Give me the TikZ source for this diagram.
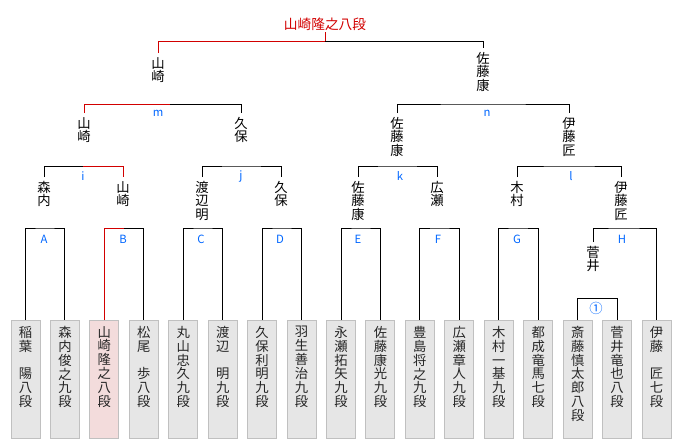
\documentclass[tikz,border=0pt]{standalone}
\usepackage{fontspec}
\setmainfont{Noto Sans CJK JP}

\definecolor{winred}{RGB}{210,0,0}
\definecolor{lblue}{RGB}{0,102,255}
\definecolor{boxfill}{RGB}{230,230,230}
\definecolor{boxline}{RGB}{192,192,192}
\definecolor{winfill}{RGB}{243,220,220}

\newcommand\boxtext[1]{\parbox[c][86pt][t]{20pt}{\centering\vspace*{3pt}#1\par}}

\tikzset{
  pbox/.style={draw=boxline, fill=boxfill, anchor=north, inner sep=0pt,
    minimum width=21.75pt, minimum height=88.5pt, text=black!85,
    font=\fontsize{10}{10.4}\selectfont},
  pwin/.style={pbox, fill=winfill},
  nm/.style={anchor=north, align=center, inner xsep=0pt, inner ysep=3pt,
    font=\fontsize{10}{9.9}\selectfont},
  lbl/.style={text=lblue, inner sep=0pt, font=\fontsize{8.5}{9}\selectfont},
  win/.style={draw=winred},
}

\begin{document}
\begin{tikzpicture}[x=0.75pt, y=-0.75pt, line width=0.75pt]
				
				\useasboundingbox (0,0) rectangle (680,440);
				
				\foreach \sty/\txt [count=\i from 0] in {
					pbox/{稲\\葉\\　\\陽\\八\\段}, pbox/{森\\内\\俊\\之\\九\\段},
					pwin/{山\\崎\\隆\\之\\八\\段}, pbox/{松\\尾\\　\\歩\\八\\段},
					pbox/{丸\\山\\忠\\久\\九\\段}, pbox/{渡\\辺\\　\\明\\九\\段},
					pbox/{久\\保\\利\\明\\九\\段}, pbox/{羽\\生\\善\\治\\九\\段},
					pbox/{永\\瀬\\拓\\矢\\九\\段}, pbox/{佐\\藤\\康\\光\\九\\段},
					pbox/{豊\\島\\将\\之\\九\\段}, pbox/{広\\瀬\\章\\人\\九\\段},
					pbox/{木\\村\\一\\基\\九\\段}, pbox/{都\\成\\竜\\馬\\七\\段},
					pbox/{斎\\藤\\慎\\太\\郎\\八\\段}, pbox/{菅\\井\\竜\\也\\八\\段},
					pbox/{伊\\藤\\　\\匠\\七\\段}}
					\node[\sty] (p\i) at (25.5+39.44*\i,320) {\boxtext{\txt}};
				
				\node[nm] (wA) at (44,177) {森\\内};
				\node[nm] (wB) at (123,177) {山\\崎};
				\node[nm] (wC) at (202,177) {渡\\辺\\明};
				\node[nm] (wD) at (281,177) {久\\保};
				\node[nm] (wE) at (358,177) {佐\\藤\\康};
				\node[nm] (wF) at (437,177) {広\\瀬};
				\node[nm] (wG) at (517,177) {木\\村};
				\node[nm] (wH) at (621,177) {伊\\藤\\匠};
				\node[nm] (w1) at (593,242) {菅\\井};
				\node[nm] (wi) at (84,113) {山\\崎};
				\node[nm] (wj) at (241,113) {久\\保};
				\node[nm] (wk) at (397,113) {佐\\藤\\康};
				\node[nm] (wl) at (569,113) {伊\\藤\\匠};
				\node[nm] (wm) at (158,53) {山\\崎};
				\node[nm] (wn) at (483,48) {佐\\藤\\康};
				\node[text=winred, font=\fontsize{10.3}{11}\selectfont, inner sep=1pt] (champ) at (325,24) {山崎隆之八段};
				
				\coordinate (mA) at (45,228);
				\coordinate (mB) at (124,228);
				\coordinate (mC) at (203,228);
				\coordinate (mD) at (282,228);
				\coordinate (mE) at (361,228);
				\coordinate (mF) at (440,228);
				\coordinate (mG) at (518,228);
				\coordinate (mH) at (623,228);
				\coordinate (m1) at (597,298);
				\coordinate (mi) at (83,166);
				\coordinate (mj) at (241,166);
				\coordinate (mk) at (397,166);
				\coordinate (ml) at (569,166);
				\coordinate (mm) at (170,104);
				\coordinate (mn) at (483,104);
				\coordinate (fin) at (325,41);
				
				\draw (p0.north) |- (mA) -| (p1.north);
				\draw[win] (p2.north) |- (mB);
				\draw (mB) -| (p3.north);
				\draw (p4.north) |- (mC) -| (p5.north);
				\draw (p6.north) |- (mD) -| (p7.north);
				\draw (p8.north) |- (mE) -| (p9.north);
				\draw (p10.north) |- (mF) -| (p11.north);
				\draw (p12.north) |- (mG) -| (p13.north);
				\draw (p14.north) |- (m1) -| (p15.north);
				\draw (w1.north) |- (mH) -| (p16.north);
				\draw (wA.north) |- (mi);
				\draw[win] (mi) -| (wB.north);
				\draw (wC.north) |- (mj) -| (wD.north);
				\draw (wE.north) |- (mk) -| (wF.north);
				\draw (wG.north) |- (ml) -| (wH.north);
				\draw[win] (wi.north) |- (mm);
				\draw (mm) -| (wj.north);
				\draw (wk.north) |- (mn) -| (wl.north);
				\draw[win] (wm.north) |- (fin) -- (champ.south);
				\draw (fin) -| (wn.north);
				
				\node[lbl] (A) at (44,239) {A};
				\node[lbl] (B) at (123,239) {B};
				\node[lbl] (C) at (201,239) {C};
				\node[lbl] (D) at (280,239) {D};
				\node[lbl] (E) at (358,239) {E};
				\node[lbl] (F) at (438,239) {F};
				\node[lbl] (G) at (517,239) {G};
				\node[lbl] (H) at (622,239) {H};
				\node[lbl, font=\fontsize{10}{10}\selectfont] (r1) at (596,308) {①};
				\node[lbl] (i) at (83,176) {i};
				\node[lbl] (j) at (241,176) {j};
				\node[lbl] (k) at (400,176) {k};
				\node[lbl] (l) at (571,176) {l};
				\node[lbl] (m) at (158,113) {m};
				\node[lbl] (n) at (487,113) {n};
			\end{tikzpicture}
\end{document}
